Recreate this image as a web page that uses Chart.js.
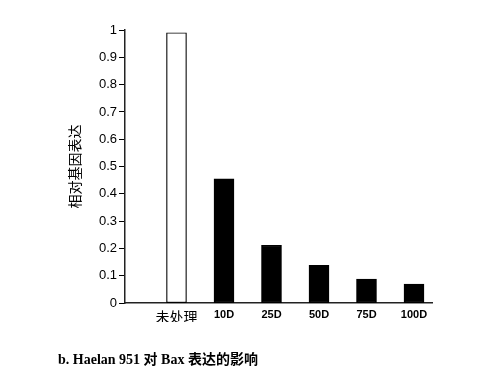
<!DOCTYPE html>
<html>
<head>
<meta charset="utf-8">
<script src="https://cdn.jsdelivr.net/npm/chart.js@4"></script>
<style>
  html,body{margin:0;padding:0;background:#fff;}
  #wrap{position:relative;width:487px;height:377px;}
  #caption{position:absolute;left:58px;top:348px;font:bold 14px "Liberation Serif","Times New Roman","Noto Sans CJK SC",serif;color:#000;white-space:nowrap;}
</style>
</head>
<body>
<div id="wrap">
  <canvas id="c" width="487" height="377"></canvas>
  <div id="caption">b. Haelan 951 对 Bax 表达的影响</div>
</div>
<script>
/* Bax relative expression by treatment */
const CATEGORIES = ['未处理','10D','25D','50D','75D','100D'];
const VALUES     = [0.99, 0.455, 0.212, 0.139, 0.088, 0.07];
const FILLS      = ['#ffffff','#000000','#000000','#000000','#000000','#000000'];
const Y_TITLE    = '相对基因表达';

const ctx = document.getElementById('c').getContext('2d');
new Chart(ctx, {
  type:'bar',
  data:{
    datasets:[{
      data: VALUES.map((v,i)=>({x:i, y:v})),
      backgroundColor: FILLS,
      borderColor:'#000',
      borderWidth:1.2,
      borderSkipped:false,
      barThickness:20
    }]
  },
  options:{
    responsive:false,
    animation:false,
    layout:{ padding:{ left:66, right:55, top:30, bottom:55 } },
    plugins:{ legend:{display:false}, tooltip:{enabled:false} },
    scales:{
      x:{
        type:'linear',
        offset:false,
        min:-1.084, max:5.379,
        // one tick per category, at the bar centres
        afterBuildTicks: s => { s.ticks = CATEGORIES.map((_,i)=>({value:i})); },
        ticks:{
          autoSkip:false, maxRotation:0, padding:-3, color:'#000',
          callback: v => CATEGORIES[v] ?? '',
          font: c => c.index === 0
            ? { family:'"Noto Sans CJK SC", sans-serif', size:14 }
            : { family:'"Liberation Sans", Arial, sans-serif', size:11, weight:'bold' }
        },
        grid:{ display:false },
        border:{ color:'#222', width:1.5 }
      },
      y:{
        min:0, max:1,
        afterFit: s => { s.width = 59; },
        ticks:{ stepSize:0.1, padding:2, color:'#000',
          font:{ family:'"Liberation Sans", Arial, sans-serif', size:13 },
          callback: v => +v.toFixed(1) + ''
        },
        grid:{ drawOnChartArea:false, drawTicks:true, tickLength:6, color:'#000' },
        border:{ color:'#222', width:1.5 },
        title:{ display:true, text:Y_TITLE, color:'#000', padding:0,
          font:{ family:'"Noto Sans CJK SC", sans-serif', size:14 } }
      }
    }
  }
});
</script>
</body>
</html>
